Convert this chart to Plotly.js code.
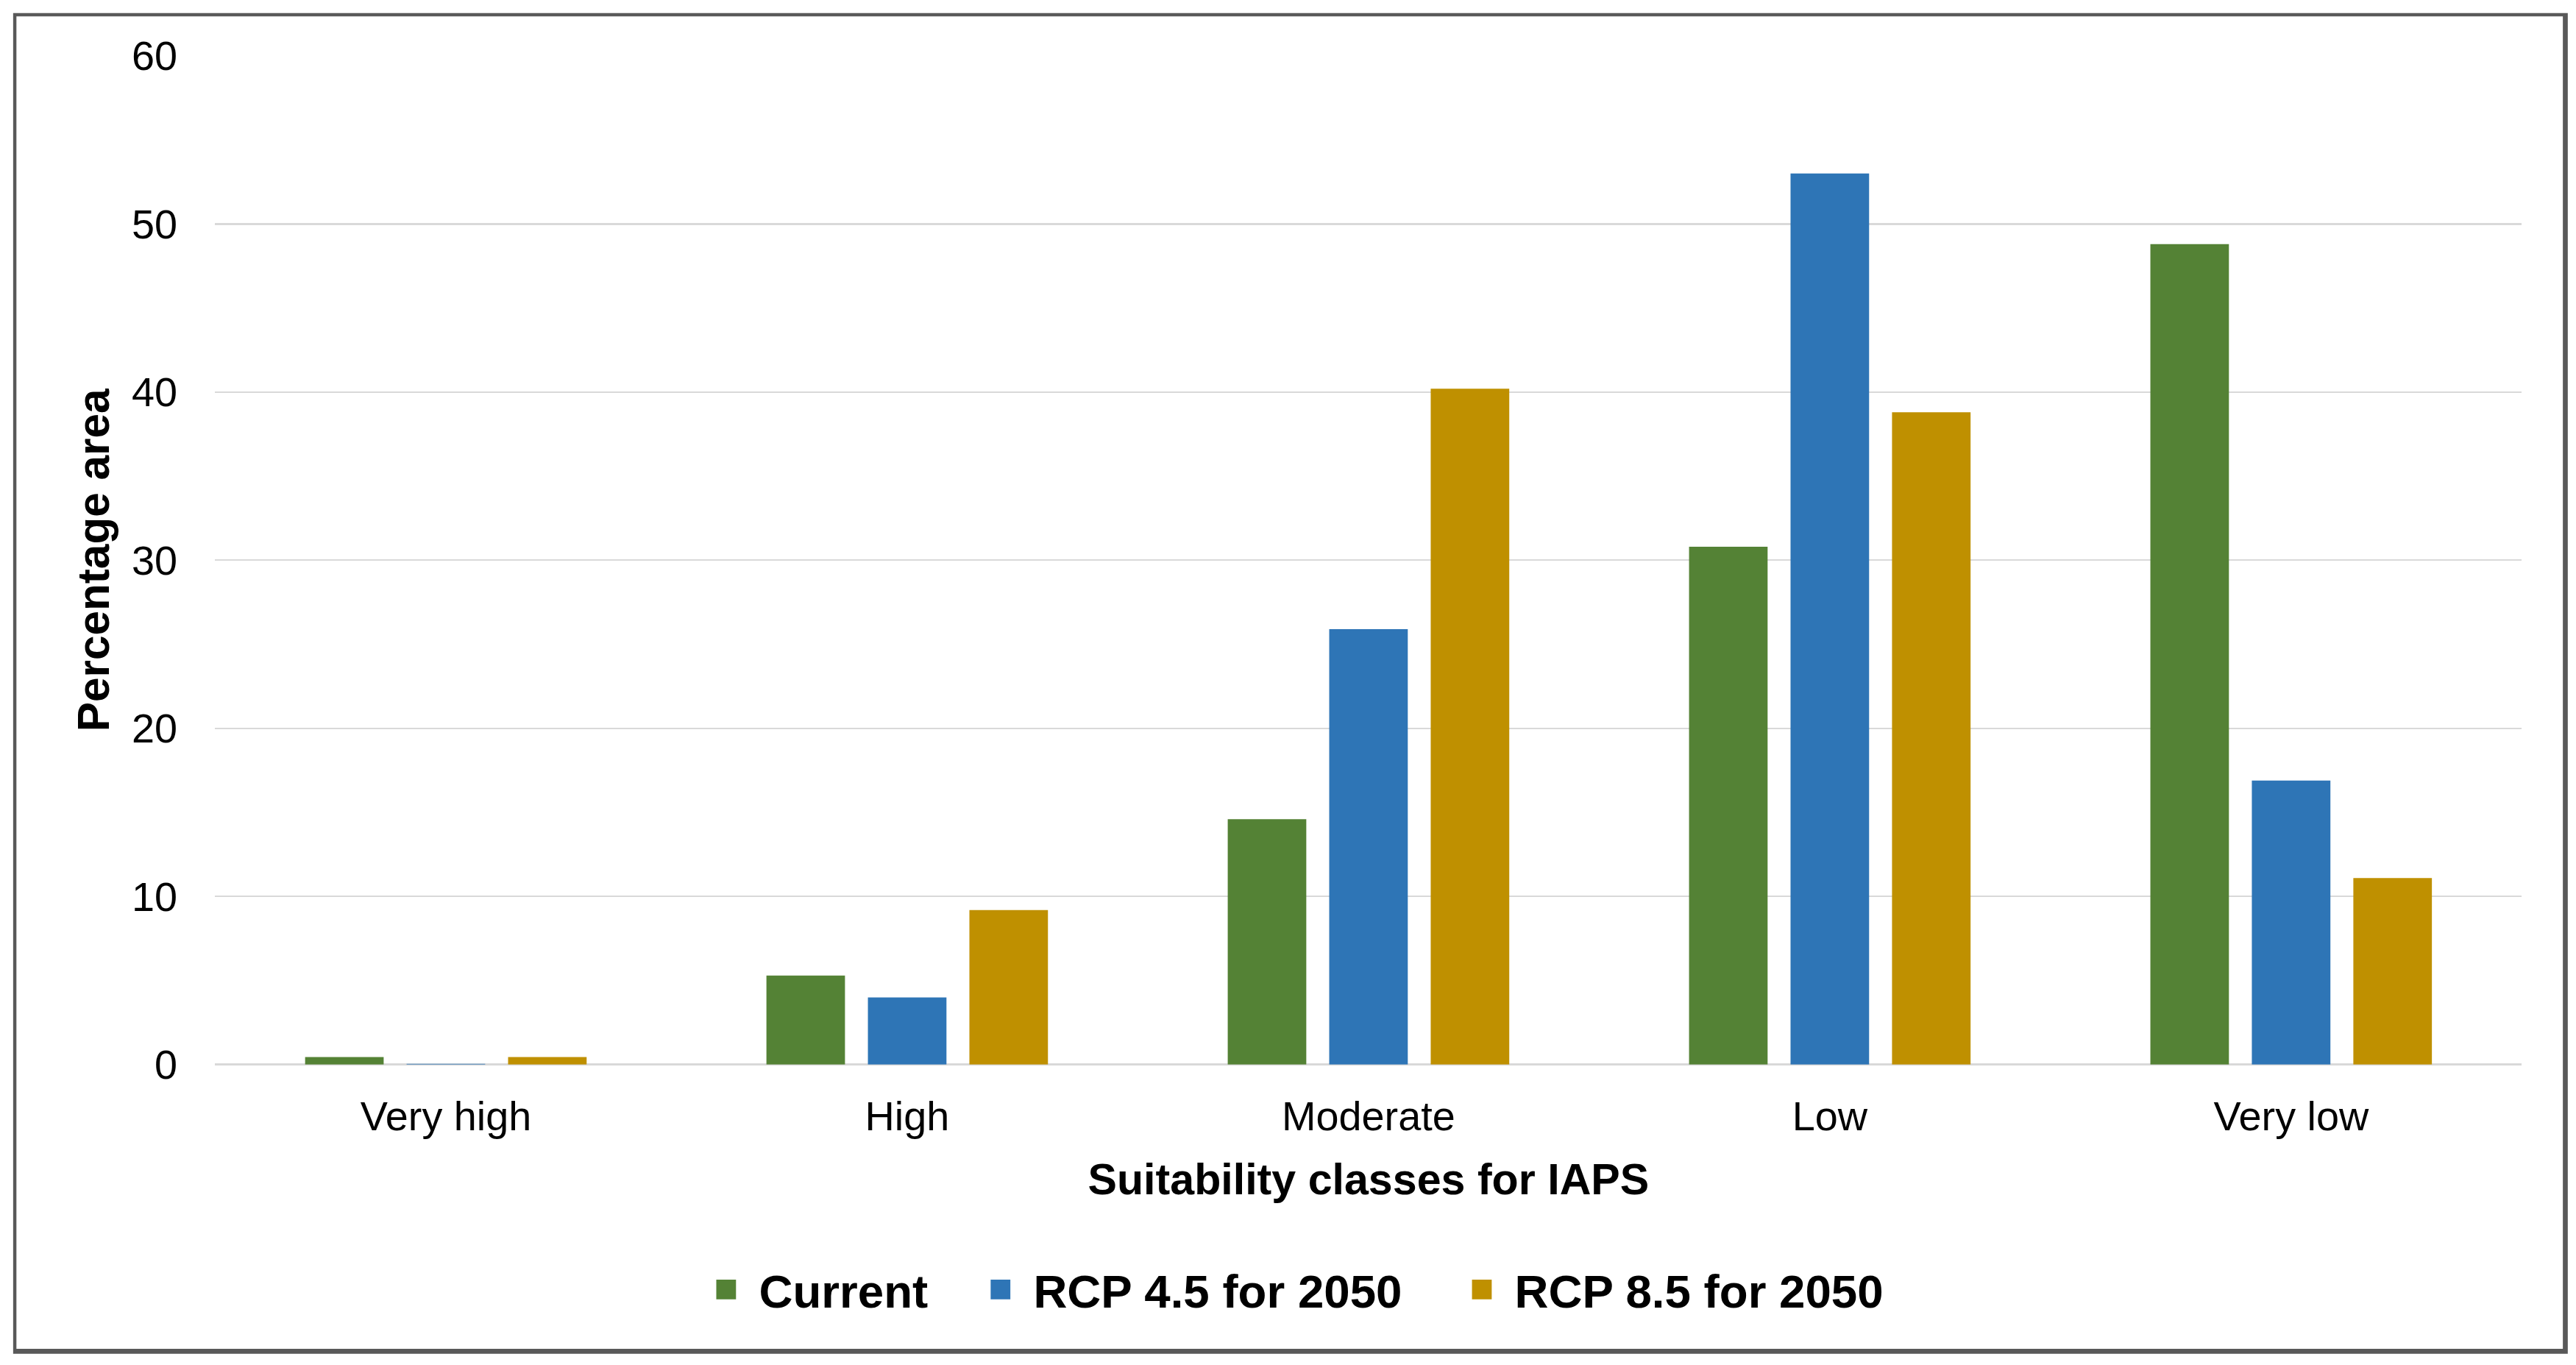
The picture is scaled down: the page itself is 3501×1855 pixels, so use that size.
<!DOCTYPE html>
<html><head><meta charset="utf-8">
<script src="https://cdn.plot.ly/plotly-3.0.1.min.js"></script>
<style>
html,body{margin:0;padding:0;background:#fff;overflow:hidden;width:3501px;height:1855px;}
#wrap{position:absolute;left:0;top:0;width:1568px;height:831px;transform:scale(2.23278);transform-origin:0 0;}
#chart{position:absolute;left:0;top:0;width:1568px;height:831px;}
#frame{position:absolute;left:8px;top:8px;width:1555px;height:816px;box-sizing:border-box;border:2px solid #595959;border-right-width:3px;border-bottom-width:3px;pointer-events:none;}
</style></head><body>
<div id="wrap"><div id="chart"></div><div id="frame"></div></div>
<script>
const categories = ['Very high', 'High', 'Moderate', 'Low', 'Very low'];
const seriesNames = ['Current', 'RCP 4.5 for 2050', 'RCP 8.5 for 2050'];
const current = [0.45, 5.3, 14.6, 30.8, 48.8];
const rcp45 = [0.05, 4.0, 25.9, 53.0, 16.9];
const rcp85 = [0.45, 9.2, 40.2, 38.8, 11.1];
const seriesColors = ['#548235', '#2E75B6', '#BF9000'];
const yTickVals = [0, 10, 20, 30, 40, 50, 60];
const xTitle = 'Suitability classes for IAPS';
const yTitle = 'Percentage area';

const FONT = '"Liberation Sans", Arial, sans-serif';
const values = [current, rcp45, rcp85];
const legendIds = ['legend', 'legend2', 'legend3'];
const legendLeft = [422, 589, 882];
const traces = values.map((v, i) => ({
  type: 'bar', x: categories, y: v, name: seriesNames[i],
  marker: {color: seriesColors[i]}, hoverinfo: 'none',
  legend: legendIds[i]
}));

function legendAt(px) {
  return {
    orientation: 'h', xref: 'container', yref: 'container',
    x: px / 1568, xanchor: 'left', y: 0.055, yanchor: 'middle',
    font: {family: FONT, size: 28.5, color: '#000', weight: 'bold'},
    bgcolor: 'rgba(0,0,0,0)', borderwidth: 0
  };
}

const layout = {
  width: 1568, height: 831, autosize: false,
  margin: {l: 131, r: 33, t: 34, b: 183},
  paper_bgcolor: '#ffffff', plot_bgcolor: '#ffffff',
  font: {family: FONT, color: '#000000', size: 25},
  barmode: 'group', bargap: 0.34, bargroupgap: 0.226,
  showlegend: true,
  legend: legendAt(legendLeft[0]),
  legend2: legendAt(legendLeft[1]),
  legend3: legendAt(legendLeft[2]),
  xaxis: {
    type: 'category', showgrid: false, showline: false, ticks: '', zeroline: false,
    tickfont: {family: FONT, size: 25, color: '#000'},
    ticklabelstandoff: 14,
    title: {text: xTitle, font: {family: FONT, size: 26.5, color: '#000', weight: 'bold'}, standoff: 16}
  },
  yaxis: {
    range: [0, 60], tickvals: yTickVals, ticktext: yTickVals.map(String),
    showgrid: true, gridcolor: '#d9d9d9', gridwidth: 1,
    zeroline: true, zerolinecolor: '#d9d9d9', zerolinewidth: 1.3,
    showline: false, ticks: '',
    tickfont: {family: FONT, size: 25, color: '#000'},
    ticklabelstandoff: 22,
    title: {text: yTitle, font: {family: FONT, size: 27, color: '#000', weight: 'bold'}, standoff: 5}
  }
};

Plotly.newPlot('chart', traces, layout, {displayModeBar: false, staticPlot: true});
</script>
</body></html>
